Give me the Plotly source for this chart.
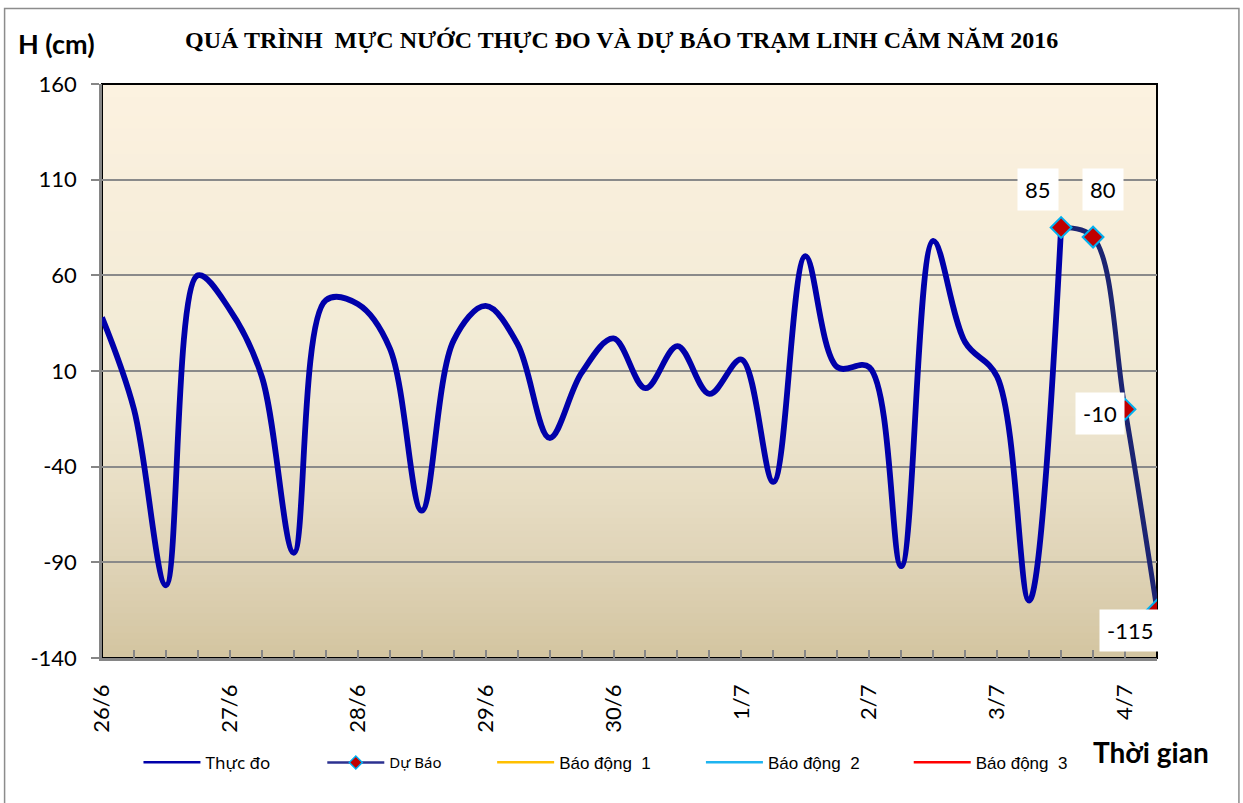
import plotly.graph_objects as go

# ---------------- data ----------------
day_labels = ["26/6", "27/6", "28/6", "29/6", "30/6", "1/7", "2/7", "3/7", "4/7"]
points_per_day = 4

measured = [38, -10, -102, 60, 42, 7, -85, 47, 45, 22, -63, 26, 44, 24, -25, 9,
            27, 1, 23, -2, 16, -48, 70, 12, 12, -92, 78, 25, 7, -110, 85]
forecast = [None] * 30 + [85, 80, -10, -115]
alarm1 = [None] * 34
alarm2 = [None] * 34
alarm3 = [None] * 34

y_ticks = [-140, -90, -40, 10, 60, 110, 160]

# ---------------- geometry helpers (page px -> figure paper) ----------------
W, H = 1243, 803
L, R, T, B = 101.5, 1157.5, 84, 658


def xp(px):
    return (px - L) / (R - L)


def yp(py):
    return (B - py) / (B - T)


n = len(forecast)
x_all = list(range(n))
x_meas = x_all[:len(measured)]
ticktext = [day_labels[i // points_per_day] if i % points_per_day == 0 else "" for i in x_all]

TICK_FONT = "Lato, 'Open Sans', sans-serif"
MEAS_COLOR = "#0000AA"
FC_COLOR = "#1C2472"

fig = go.Figure()
fig.add_trace(go.Scatter(
    x=x_meas, y=measured, name="Thực đo", mode="lines", showlegend=False,
    line=dict(color=MEAS_COLOR, width=5.8, shape="spline", smoothing=1)))
fig.add_trace(go.Scatter(
    x=x_all, y=forecast, name="Dự Báo", mode="lines+markers", showlegend=False,
    line=dict(color=FC_COLOR, width=5, shape="spline", smoothing=1),
    marker=dict(symbol="diamond", size=16, color="#C00000",
                line=dict(color="#00B0F0", width=2))))

# legend entries (thin lines, as in the reference legend)
fig.add_trace(go.Scatter(x=[None], y=[None], name="Thực đo", mode="lines",
                         line=dict(color=MEAS_COLOR, width=2.5), legend="legend"))
fig.add_trace(go.Scatter(x=[None], y=[None], name="Dự Báo", mode="lines+markers",
                         line=dict(color="#2B3190", width=2.5),
                         marker=dict(symbol="diamond", size=10, color="#C00000",
                                     line=dict(color="#00B0F0", width=1.5)),
                         legend="legend2"))
fig.add_trace(go.Scatter(x=x_all, y=alarm1, name="Báo động  1", mode="lines",
                         line=dict(color="#FFC000", width=2.5), legend="legend3"))
fig.add_trace(go.Scatter(x=x_all, y=alarm2, name="Báo động  2", mode="lines",
                         line=dict(color="#1EB4F0", width=2.5), legend="legend4"))
fig.add_trace(go.Scatter(x=x_all, y=alarm3, name="Báo động  3", mode="lines",
                         line=dict(color="#FF0000", width=2.5), legend="legend5"))

# ---------------- background gradient (styling) ----------------
stops = [(0.00, (211, 196, 160)), (0.15, (222, 210, 181)), (0.30, (232, 222, 197)),
         (0.45, (239, 231, 209)), (0.60, (243, 236, 215)), (0.80, (248, 238, 219)),
         (1.00, (252, 242, 224))]


def grad(f):
    for (f0, c0), (f1, c1) in zip(stops[:-1], stops[1:]):
        if f0 <= f <= f1:
            t = (f - f0) / (f1 - f0)
            return "rgb(%d,%d,%d)" % tuple(round(a + (b - a) * t) for a, b in zip(c0, c1))
    return "rgb(%d,%d,%d)" % stops[-1][1]


shapes = []
nb = 90
for k in range(nb):
    y0 = k / nb
    y1 = (k + 1) / nb + 0.002
    shapes.append(dict(type="rect", xref="paper", yref="paper", x0=0, x1=1, y0=y0, y1=min(y1, 1),
                       fillcolor=grad((k + 0.5) / nb), line=dict(width=0), layer="below"))
# plot-area border
shapes.append(dict(type="rect", xref="paper", yref="paper", x0=0, x1=1, y0=0, y1=1,
                   line=dict(color="black", width=2), layer="between"))
# outer chart frame
shapes.append(dict(type="rect", xref="paper", yref="paper", x0=xp(4), x1=xp(1239.5),
                   y0=yp(808), y1=yp(8.5), line=dict(color="#8C8C8C", width=1.5), layer="below"))

annotations = [
    dict(text="<b>QUÁ TRÌNH  MỰC NƯỚC THỰC ĐO VÀ DỰ BÁO TRẠM LINH CẢM NĂM 2016</b>",
         xref="paper", yref="paper", x=xp(621), y=yp(40), showarrow=False,
         xanchor="center", yanchor="middle",
         font=dict(family="'Liberation Serif', 'Times New Roman', serif", size=24, color="black")),
    dict(text="<b>H (cm)</b>", xref="paper", yref="paper", x=xp(56), y=yp(44), showarrow=False,
         xanchor="center", yanchor="middle", font=dict(family=TICK_FONT, size=27, color="black")),
    dict(text="<b>Thời gian</b>", xref="paper", yref="paper", x=xp(1151), y=yp(752), showarrow=False,
         xanchor="center", yanchor="middle", font=dict(family=TICK_FONT, size=28, color="black")),
]
label_shift = {30: (-23.5, 38), 31: (9.5, 48), 32: (-25.5, -4.7), 33: (-27.5, -20)}
for i, (dx, dy) in label_shift.items():
    annotations.append(dict(text=str(forecast[i]), x=x_all[i], y=forecast[i], xref="x", yref="y",
                            showarrow=False, xshift=dx, yshift=dy, bgcolor="white", borderpad=7,
                            font=dict(family=TICK_FONT, size=22, color="black")))

leg_common = dict(orientation="h", xanchor="left", yanchor="middle", bgcolor="rgba(0,0,0,0)",
                  itemwidth=57, borderwidth=0)
leg_y = yp(762.7)
NARROW = "'Liberation Sans', Arial, sans-serif"

fig.update_layout(
    width=W, height=H,
    margin=dict(l=L, r=W - R, t=T, b=H - B, pad=0),
    paper_bgcolor="white", plot_bgcolor="rgba(0,0,0,0)",
    showlegend=True,
    xaxis=dict(range=[0, n - 1], tickmode="array", tickvals=x_all, ticktext=ticktext,
               tickangle=-90, ticks="inside", ticklen=8, tickwidth=1.5, tickcolor="#868686",
               showgrid=False, zeroline=False, showline=True, linecolor="#868686", linewidth=2.5,
               ticklabelstandoff=15,
               tickfont=dict(family=TICK_FONT, size=22, color="black")),
    yaxis=dict(range=[-140, 160], tickmode="array", tickvals=y_ticks,
               ticktext=[str(v) for v in y_ticks],
               ticks="outside", ticklen=8, tickwidth=1.5, tickcolor="#868686",
               showgrid=True, gridcolor="#8A8A8A", gridwidth=1.5, zeroline=False,
               showline=True, linecolor="#868686", linewidth=2.5, ticklabelstandoff=10,
               tickfont=dict(family=TICK_FONT, size=22, color="black")),
    shapes=shapes, annotations=annotations,
    legend=dict(x=xp(138), y=leg_y, font=dict(family="'Noto Sans', sans-serif", size=17, color="black"), **leg_common),
    legend2=dict(x=xp(322), y=leg_y, font=dict(family="'Noto Sans', sans-serif", size=15, color="black"), **leg_common),
    legend3=dict(x=xp(492), y=leg_y, font=dict(family=NARROW, size=17, color="black"), **leg_common),
    legend4=dict(x=xp(701), y=leg_y, font=dict(family=NARROW, size=17, color="black"), **leg_common),
    legend5=dict(x=xp(909), y=leg_y, font=dict(family=NARROW, size=17, color="black"), **leg_common),
)

fig.write_html("out.html", config={"displayModeBar": False},
               post_script="document.body.style.margin='0';")
